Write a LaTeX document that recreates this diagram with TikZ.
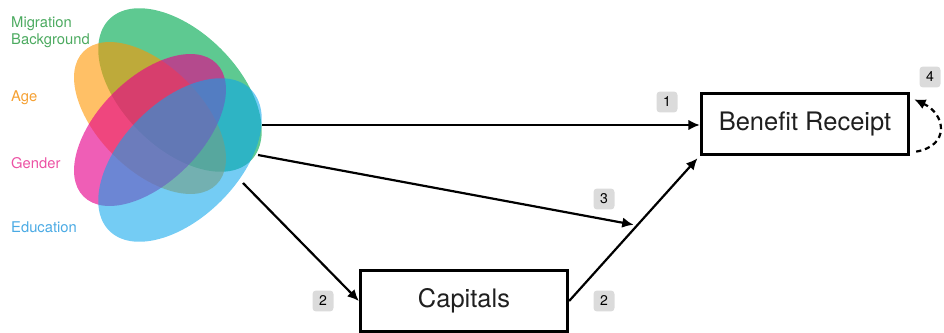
\documentclass[tikz,border=0pt]{standalone}
\usepackage{fontspec}
\setmainfont{TeX Gyre Heros}
\usetikzlibrary{calc,arrows.meta}
\definecolor{migfill}{RGB}{0,170,80}
\definecolor{agefill}{RGB}{255,150,0}
\definecolor{genfill}{RGB}{230,0,140}
\definecolor{edufill}{RGB}{10,165,235}
\definecolor{migtext}{RGB}{76,170,96}
\definecolor{agetext}{RGB}{245,160,50}
\definecolor{gentext}{RGB}{236,82,164}
\definecolor{edutext}{RGB}{74,170,228}
\begin{document}
\begin{tikzpicture}[x=0.02cm,y=0.02cm,
    box/.style={draw,line width=1.6pt,minimum width=4.15cm,minimum height=1.21cm,
      text=black!88,font=\fontsize{14.5}{16}\selectfont},
    tag/.style={fill=black!14,rounded corners=2pt,minimum size=0.42cm,inner sep=0pt,
      font=\fontsize{8}{9}\selectfont},
    group/.style={anchor=west,align=left,font=\fontsize{8.4}{9.6}\selectfont},
    arr/.style={-{Latex[length=6.5pt,width=6pt]},line width=1.25pt}]
    \useasboundingbox (0,0) rectangle (944,332);
    % overlapping groups
    \fill [migfill,fill opacity=0.63,rotate around={-45:(180,242)}] (180,242) ellipse [x radius=100,y radius=58];
    \fill [agefill,fill opacity=0.6,rotate around={-45:(150,214)}] (150,214) ellipse [x radius=94,y radius=52];
    \fill [genfill,fill opacity=0.63,rotate around={45:(150,202)}] (150,202) ellipse [x radius=94,y radius=52];
    \fill [edufill,fill opacity=0.57,rotate around={45:(180,172)}] (180,172) ellipse [x radius=100,y radius=58];
    \node [group,text=migtext] (mig) at (5,300) {Migration\\Background};
    \node [group,text=agetext] (age) at (5,234) {Age};
    \node [group,text=gentext] (gen) at (5,169) {Gender};
    \node [group,text=edutext] (edu) at (5,105) {Education};
    % outcomes
    \node [box] (br) at (805,208) {Benefit Receipt};
    \node [box] (cap) at (464,31) {Capitals};
    \coordinate (o1) at (262,207);
    \coordinate (o3) at (258,177);
    \coordinate (o2) at (243,149);
    \coordinate (mid) at ($(cap.east)!0.52!(br.south west)$);
    \draw [arr] (o1) -- (o1 -| br.west);
    \draw [arr,shorten >=2pt] (o3) -- (mid);
    \draw [arr] (o2) -- (cap.west);
    \draw [arr,shorten >=2pt] (cap.east) -- (br.south west);
    \draw [arr,dash pattern=on 3pt off 2.2pt] ($(br.south east)+(6,4)$) to [out=10,in=-25,looseness=1.7] ($(br.north east)+(4,-7)$);
    % path numbers
    \node [tag] (t1) at (667,230) {1};
    \node [tag] (t2a) at (323,31) {2};
    \node [tag] (t2b) at (604,31) {2};
    \node [tag] (t3) at (604,133) {3};
    \node [tag] (t4) at (930,255) {4};
\end{tikzpicture}
\end{document}
